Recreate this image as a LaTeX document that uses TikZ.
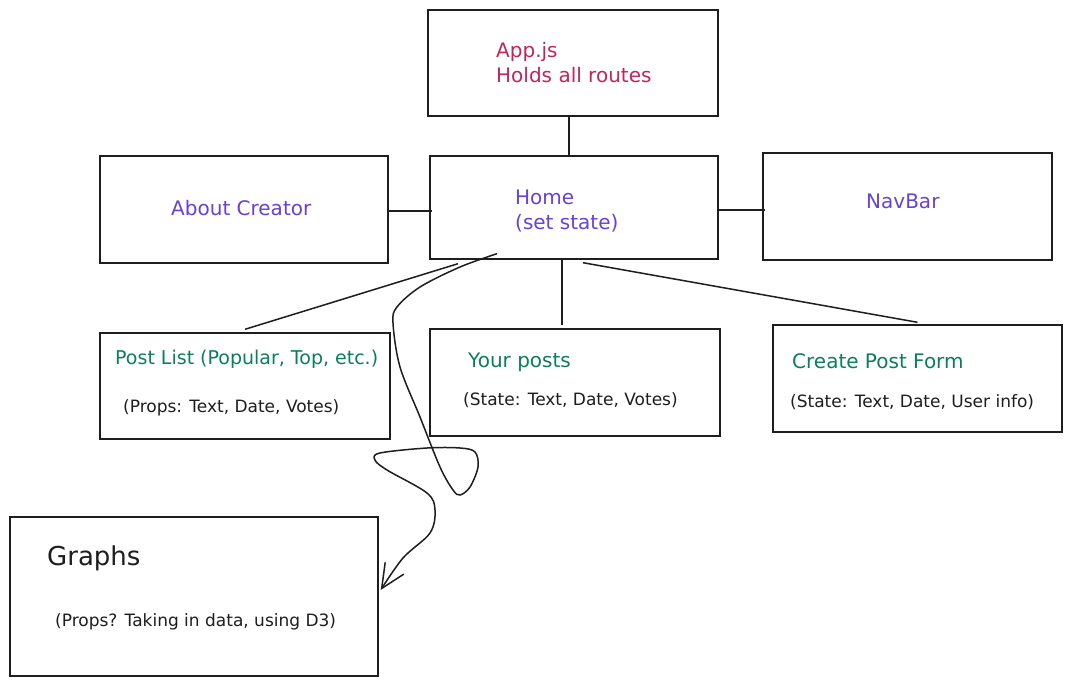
\documentclass[tikz,border=0pt]{standalone}
\usepackage{fontspec}
\setmainfont{DejaVu Sans}
\usetikzlibrary{arrows.meta}
\definecolor{ink}{HTML}{1E1E1E}
\definecolor{crim}{HTML}{C2255C}
\definecolor{viol}{HTML}{6741D9}
\definecolor{grn}{HTML}{0B7F5B}
\begin{document}
\begin{tikzpicture}[x=1pt,y=-1pt,
  box/.style n args={2}{draw=ink,line width=1.4pt,minimum width=#1,minimum height=#2,inner sep=0pt},
  link/.style={draw=ink,line width=1.5pt},
  big/.style={font=\fontsize{20}{25}\selectfont,inner sep=0pt,anchor=base west},
  mid/.style={font=\fontsize{19}{24}\selectfont,inner sep=0pt,anchor=base west},
  small/.style={font=\fontsize{17}{20}\selectfont,inner sep=0pt,anchor=base west,text=ink},
  two/.style={font=\fontsize{20}{25}\selectfont,inner sep=0pt,anchor=west,align=left}]
\useasboundingbox[fill=white] (0,0) rectangle (1071,686);
% boxes
\node[box={290pt}{106pt}] (app) at (573,63) {};
\node[box={288pt}{103pt}] (home) at (574,207.5) {};
\node[box={288pt}{107pt}] (about) at (244,209.5) {};
\node[box={289pt}{107pt}] (nav) at (907.5,206.5) {};
\node[box={290pt}{106pt}] (plist) at (245,386) {};
\node[box={290pt}{107pt}] (yours) at (575,382.5) {};
\node[box={289pt}{107pt}] (create) at (917.5,378.5) {};
\node[box={368pt}{159pt}] (graphs) at (194,596.5) {};
% texts
\node[two,text=crim] (tapp) at (496,63) {App.js\\Holds all routes};
\node[two,text=viol] (thome) at (515,211) {Home\\(set state)};
\node[big,text=viol] (tabout) at (171,215) {About Creator};
\node[big,text=viol] (tnav) at (866,208) {NavBar};
\node[mid,text=grn] (tplist) at (115,364) {Post List (Popular, Top, etc.)};
\node[small] (tplist2) at (123,412) {(Props: Text, Date, Votes)};
\node[big,text=grn] (tyours) at (468,367) {Your posts};
\node[small] (tyours2) at (463,405) {(State: Text, Date, Votes)};
\node[big,text=grn] (tcreate) at (792,368) {Create Post Form};
\node[small] (tcreate2) at (790,407) {(State: Text, Date, User info)};
\node[font=\fontsize{26}{30}\selectfont,inner sep=0pt,anchor=base west,text=ink] (tgraphs) at (47,565) {Graphs};
\node[small] (tgraphs2) at (55,626) {(Props? Taking in data, using D3)};
% connectors
\draw[link] ([xshift=-4pt]app.south) -- ([xshift=-5pt]home.north);
\draw[link] ([xshift=-2pt,yshift=-1.5pt]about.east) -- ([xshift=3pt,yshift=-3.5pt]home.west);
\draw[link] ([yshift=-2.5pt]home.east) -- ([xshift=3pt,yshift=-3.5pt]nav.west);
\draw[link] ([shift={(-116pt,-4pt)}]home.south) -- ([yshift=3pt]plist.north);
\draw[link] ([xshift=-12pt]home.south) -- ([xshift=-13pt,yshift=3pt]yours.north);
\draw[link] ([shift={(9pt,-3pt)}]home.south) -- ([yshift=2pt]create.north);
\draw[link,-{Straight Barb[length=24pt,width=22pt]}] plot[smooth,tension=0.55] coordinates {([shift={(-77pt,6pt)}]home.south) (460,267) (420,287) (397,307) (393,323) (400,367) (420,417) (440,467) (453,490) (460,495) (470,487) (478,467) (475,452) (460,448) (427,448) (380,453) (375,460) (387,470) (427,493) (435,510) (430,533) (403,558) ([shift={(2pt,6.5pt)}]graphs.east)};
\end{tikzpicture}
\end{document}
